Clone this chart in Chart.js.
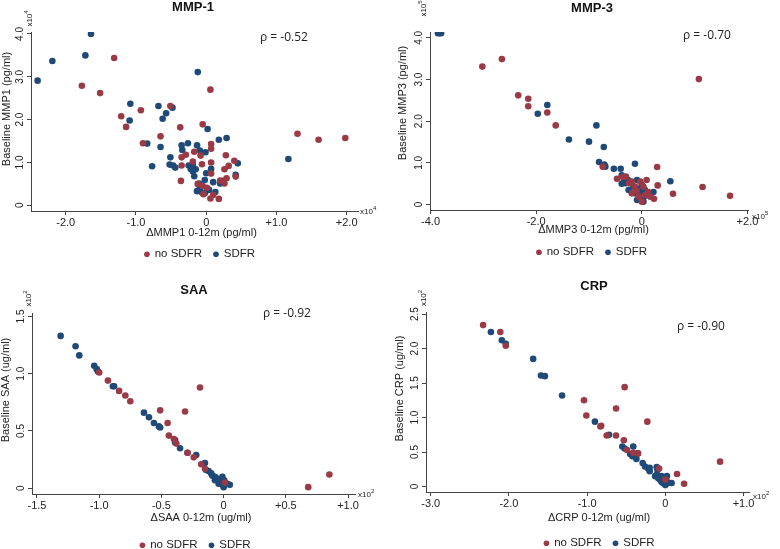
<!DOCTYPE html>
<html>
<head>
<meta charset="utf-8">
<script src="https://cdn.jsdelivr.net/npm/chart.js@4.4.0/dist/chart.umd.min.js"></script>
<style>
  html, body { margin: 0; padding: 0; background: #fff; width: 780px; height: 549px; overflow: hidden; position: relative; }
  canvas { position: absolute; }
</style>
</head>
<body>
<canvas id="c1"></canvas>
<canvas id="c2"></canvas>
<canvas id="c3"></canvas>
<canvas id="c4"></canvas>
<script>
// legend groups
const GROUPS = ["no SDFR", "SDFR"];

// MMP-1 (x10^4), [delta, baseline]
const MMP1_NO = [[-1.77,2.79],[-1.51,2.62],[-1.31,3.44],[-1.21,2.08],[-1.14,1.83],[-0.93,2.22],[-0.90,1.45],[-0.65,1.61],[-0.51,2.32],[-0.37,1.82],[-0.05,1.89],[0.06,2.70],[-0.35,1.12],[-0.29,1.18],[-0.35,0.93],[-0.36,0.57],[-0.17,1.25],[-0.08,1.16],[-0.06,0.96],[-0.19,1.02],[0.07,1.43],[0.07,1.32],[0.07,1.00],[0.07,0.74],[0.28,1.17],[0.26,0.84],[0.32,0.92],[0.40,1.04],[0.42,0.67],[0.29,0.63],[0.24,0.57],[0.20,0.58],[0.26,0.51],[-0.12,0.50],[-0.05,0.45],[0.01,0.41],[-0.04,0.26],[0.10,0.24],[0.06,0.16],[0.18,0.15],[1.30,1.67],[1.60,1.53],[1.98,1.57]];
const MMP1_YES = [[-2.40,2.91],[-2.19,3.37],[-1.72,3.50],[-1.64,4.00],[-1.08,2.37],[-1.09,1.98],[-0.68,2.32],[-0.57,2.15],[-0.62,2.02],[-0.48,2.28],[-0.12,3.11],[-0.84,1.44],[-0.77,0.91],[-0.65,1.36],[-0.51,1.12],[-0.52,0.95],[-0.47,0.93],[-0.44,0.88],[-0.35,1.40],[-0.34,1.29],[-0.26,1.45],[-0.13,1.40],[-0.09,1.28],[-0.01,1.24],[0.02,1.78],[0.18,1.53],[0.29,1.57],[-0.25,0.93],[-0.19,0.95],[-0.22,0.85],[-0.15,0.84],[-0.17,0.68],[-0.19,0.79],[0.00,0.75],[0.07,0.85],[-0.02,0.59],[0.10,0.54],[0.20,0.51],[-0.13,0.33],[-0.06,0.30],[-0.02,0.28],[0.04,0.36],[0.13,0.31],[-0.09,0.40],[0.42,0.71],[0.45,0.98],[1.17,1.08],[-0.10,0.51]];
const MMP1_X_TICKS = [-2, -1, 0, 1, 2];
const MMP1_Y_TICKS = [0, 1, 2, 3, 4];

// MMP-3 (x10^5)
const MMP3_NO = [[-3.02,3.31],[-2.65,3.49],[-2.34,2.62],[-2.15,2.54],[-2.15,2.36],[-1.79,2.21],[-1.63,1.90],[-0.74,0.91],[-0.47,0.62],[-0.30,0.67],[-0.19,0.55],[-0.03,0.55],[0.09,0.59],[0.29,0.90],[0.30,0.46],[0.59,0.26],[1.15,0.42],[1.67,0.21],[1.08,3.01],[-0.19,0.27],[-0.06,0.19],[0.06,0.23],[0.16,0.19],[0.23,0.14],[-0.13,0.43],[0.03,0.43],[0.00,0.07],[-0.24,0.51],[-0.36,0.66],[-0.10,0.33],[0.12,0.30]];
const MMP3_YES = [[-3.86,4.11],[-3.83,4.11],[-3.80,4.11],[-1.79,2.39],[-1.97,2.18],[-1.38,1.56],[-1.00,1.51],[-0.86,1.90],[-0.72,1.38],[-0.81,1.02],[-0.71,0.96],[-0.69,0.91],[-0.53,0.86],[-0.40,0.86],[-0.13,0.98],[-0.38,0.70],[-0.38,0.50],[-0.26,0.59],[-0.09,0.59],[-0.25,0.35],[-0.16,0.43],[-0.13,0.27],[-0.06,0.31],[-0.03,0.19],[0.01,0.13],[0.03,0.27],[0.06,0.35],[0.00,0.47],[0.22,0.30],[0.54,0.56],[-0.31,0.51],[0.03,0.07],[-0.09,0.11],[-0.02,0.39],[-0.34,0.55],[0.05,0.20]];
const MMP3_X_TICKS = [-4, -2, 0, 2];
const MMP3_Y_TICKS = [0, 1, 2, 3, 4];

// SAA (x10^2)
const SAA_NO = [[-1.00,1.01],[-0.93,0.94],[-0.84,0.85],[-0.79,0.81],[-0.75,0.76],[-0.51,0.68],[-0.45,0.57],[-0.44,0.46],[-0.40,0.43],[-0.38,0.39],[-0.31,0.67],[-0.29,0.31],[-0.24,0.27],[-0.19,0.88],[-0.18,0.21],[-0.15,0.17],[0.01,0.05],[0.68,0.01],[0.85,0.12]];
const SAA_YES = [[-1.31,1.33],[-1.19,1.24],[-1.16,1.16],[-1.04,1.07],[-1.02,1.04],[-1.01,1.02],[-0.89,0.89],[-0.88,0.89],[-0.64,0.66],[-0.60,0.62],[-0.56,0.57],[-0.52,0.54],[-0.51,0.53],[-0.39,0.42],[-0.39,0.40],[-0.35,0.35],[-0.29,0.31],[-0.22,0.29],[-0.15,0.22],[-0.14,0.16],[-0.12,0.15],[-0.10,0.13],[-0.07,0.10],[-0.06,0.09],[-0.04,0.07],[-0.03,0.06],[-0.02,0.04],[0.00,0.01],[0.01,0.03],[0.03,0.04],[0.05,0.03],[-0.02,0.08],[-0.01,0.10],[0.005,0.07],[-0.04,0.04],[-0.07,0.07],[-0.09,0.11]];
const SAA_X_TICKS = [-1.5, -1, -0.5, 0, 0.5, 1];
const SAA_Y_TICKS = [0, 0.5, 1, 1.5];

// CRP (x10^2)
const CRP_NO = [[-2.33,2.34],[-2.11,2.24],[-2.04,2.04],[-1.04,1.25],[-1.01,1.03],[-0.83,0.87],[-0.82,0.88],[-0.75,0.74],[-0.63,0.74],[-0.63,1.13],[-0.52,1.44],[-0.53,0.67],[-0.49,0.53],[-0.35,0.48],[-0.23,0.94],[-0.08,0.26],[0.00,0.10],[0.15,0.18],[0.24,0.04],[0.70,0.36],[-0.41,0.49]];
const CRP_YES = [[-2.23,2.24],[-2.09,2.12],[-2.04,2.07],[-1.69,1.85],[-1.59,1.61],[-1.54,1.60],[-1.32,1.32],[-0.90,0.94],[-0.72,0.75],[-0.55,0.58],[-0.52,0.55],[-0.41,0.58],[-0.45,0.47],[-0.42,0.44],[-0.37,0.40],[-0.35,0.48],[-0.29,0.34],[-0.26,0.29],[-0.22,0.26],[-0.20,0.22],[-0.11,0.28],[-0.10,0.24],[-0.13,0.15],[-0.09,0.12],[-0.07,0.10],[-0.05,0.07],[-0.03,0.05],[0.00,0.02],[0.02,0.07],[0.04,0.05],[0.08,0.05],[0.02,0.15],[-0.20,0.27],[-0.05,0.15],[-0.11,0.17]];
const CRP_X_TICKS = [-3, -2, -1, 0, 1];
const CRP_Y_TICKS = [0, 0.5, 1, 1.5, 2, 2.5];

const RED = "#9a3a46";
const BLUE = "#1f4a78";
const AXIS = "#444";
const TEXT = "#222";
const FONT = "'Liberation Sans', Arial, sans-serif";

const LEGEND_FONT = 11.5;
const LEGEND_PAD = 12;
const LEGEND_H = LEGEND_FONT + LEGEND_PAD + 10;

Chart.defaults.font.family = FONT;
Chart.defaults.color = TEXT;

function fmtX(v) { return v === 0 ? "0" : (v > 0 ? "+" : "") + v.toFixed(1); }
function fmtY(v) { return v === 0 ? "0" : v.toFixed(1); }

function drawExp(ctx, x, y, exp, rotated) {
  ctx.save();
  ctx.translate(x, y);
  if (rotated) ctx.rotate(-Math.PI / 2);
  ctx.fillStyle = TEXT;
  ctx.textBaseline = "alphabetic";
  ctx.font = "8px " + FONT;
  const w = ctx.measureText("x10").width;
  ctx.font = "6px " + FONT;
  const w2 = ctx.measureText(exp).width;
  const start = rotated ? -(w + w2) / 2 : 0;
  ctx.font = "8px " + FONT;
  ctx.textAlign = "left";
  ctx.fillText("x10", start, 3);
  ctx.font = "6px " + FONT;
  ctx.fillText(exp, start + w, -1);
  ctx.restore();
}

// titles, rho and exponent labels
function textPlugin(p) {
  return {
    id: "panelText",
    afterDraw(chart) {
      const ctx = chart.ctx;
      ctx.save();
      ctx.fillStyle = "#111";
      ctx.textBaseline = "middle";
      ctx.textAlign = "center";
      ctx.font = "bold 13px " + FONT;
      ctx.fillText(p.title, p.titlePos[0], p.titlePos[1]);

      ctx.font = "11px " + FONT;
      ctx.fillStyle = TEXT;
      ctx.fillText(p.xTitle, p.xTitlePos[0], p.xTitlePos[1]);
      ctx.save();
      ctx.translate(p.yTitlePos[0], p.yTitlePos[1]);
      ctx.rotate(-Math.PI / 2);
      ctx.fillText(p.yTitle, 0, 0);
      ctx.restore();

      ctx.textAlign = "left";
      ctx.font = "12px 'Open Sans', sans-serif";
      ctx.fillText(p.rho, p.rhoPos[0], p.rhoPos[1]);
      ctx.restore();

      drawExp(ctx, p.yExpPos[0], p.yExpPos[1], p.exp, true);
      drawExp(ctx, p.xExpPos[0], p.xExpPos[1], p.exp, false);
    }
  };
}

function makePanel(p, noData, yesData, xTicks, yTicks, xRange, yRange) {
  const canvas = document.getElementById(p.id);
  canvas.width = p.w;
  canvas.height = p.h;
  canvas.style.left = p.x + "px";
  canvas.style.top = p.y + "px";
  const [L, T, R, B] = p.area;
  const xScaleH = p.h - LEGEND_H - B;

  const toPts = (arr) => arr.map(([x, y]) => ({ x, y }));
  const ds = (label, data, color) => ({
    label,
    data: toPts(data),
    backgroundColor: color,
    borderColor: color,
    borderWidth: 0,
    pointRadius: 3.3,
    pointHoverRadius: 3.3,
  });

  const grid = { display: true, drawOnChartArea: false, drawTicks: true, tickLength: 4, color: AXIS, lineWidth: 1 };
  const border = { display: true, color: AXIS, width: 1 };

  new Chart(canvas, {
    type: "scatter",
    data: {
      datasets: [ds(GROUPS[0], noData, RED), ds(GROUPS[1], yesData, BLUE)],
    },
    options: {
      responsive: false,
      animation: false,
      events: [],
      layout: { padding: { left: 0, top: T, right: 0, bottom: 0 } },
      plugins: {
        title: { display: false },
        tooltip: { enabled: false },
        legend: {
          position: "bottom",
          labels: {
            usePointStyle: true,
            boxWidth: 4,
            boxHeight: 4,
            padding: LEGEND_PAD,
            color: TEXT,
            font: { size: LEGEND_FONT, family: FONT },
          },
        },
      },
      scales: {
        x: {
          type: "linear",
          bounds: "data",
          min: xRange[0],
          max: xRange[1],
          grid,
          border,
          afterBuildTicks: (s) => { s.ticks = xTicks.map((v) => ({ value: v })); },
          afterFit: (s) => { s.height = xScaleH; s.paddingLeft = 0; s.paddingRight = 0; },
          ticks: { color: TEXT, font: { size: 11 }, padding: 1, minRotation: 0, maxRotation: 0, autoSkip: false, callback: (v) => fmtX(v) },
        },
        y: {
          type: "linear",
          bounds: "data",
          min: yRange[0],
          max: yRange[1],
          grid,
          border,
          afterBuildTicks: (s) => { s.ticks = yTicks.map((v) => ({ value: v })); },
          afterFit: (s) => { s.width = L; s.paddingTop = 0; s.paddingBottom = 0; },
          ticks: { color: TEXT, font: { size: 10 }, padding: 0, minRotation: 90, maxRotation: 90, crossAlign: "center", autoSkip: false, callback: (v) => fmtY(v) },
        },
        // empty right box, only there to centre the legend like the original
        pad: {
          type: "linear",
          position: "right",
          display: true,
          grid: { display: false },
          border: { display: false },
          ticks: { display: false },
          afterFit: (s) => { s.width = p.w - R; },
        },
      },
    },
    plugins: [textPlugin(p)],
  });
}

makePanel({
  id: "c1", x: 0, y: 0, w: 400, h: 270, area: [31, 32, 358, 211],
  title: "MMP-1", titlePos: [193, 7.5],
  rho: "ρ = -0.52", rhoPos: [260, 38],
  xTitle: "ΔMMP1 0-12m (pg/ml)", xTitlePos: [201.5, 233],
  yTitle: "Baseline MMP1 (pg/ml)", yTitlePos: [7, 109],
  exp: "4", yExpPos: [29, 18.5], xExpPos: [360, 211],
}, MMP1_NO, MMP1_YES, MMP1_X_TICKS, MMP1_Y_TICKS, [-2.494, 2.161], [-0.133, 4.046]);

makePanel({
  id: "c2", x: 390, y: 0, w: 404, h: 268, area: [40, 32, 358, 210],
  title: "MMP-3", titlePos: [202, 8],
  rho: "ρ = -0.70", rhoPos: [293, 36],
  xTitle: "ΔMMP3 0-12m (pg/ml)", xTitlePos: [203.5, 230],
  yTitle: "Baseline MMP3 (pg/ml)", yTitlePos: [13, 103],
  exp: "5", yExpPos: [33, 8.5], xExpPos: [362, 216],
}, MMP3_NO, MMP3_YES, MMP3_X_TICKS, MMP3_Y_TICKS, [-4.01, 2.01], [-0.13, 4.14]);

makePanel({
  id: "c3", x: 0, y: 270, w: 391, h: 291, area: [32, 43, 355, 224],
  title: "SAA", titlePos: [194, 20.5],
  rho: "ρ = -0.92", rhoPos: [263, 44],
  xTitle: "ΔSAA 0-12m (ug/ml)", xTitlePos: [201, 248],
  yTitle: "Baseline SAA (ug/ml)", yTitlePos: [6, 120],
  exp: "2", yExpPos: [28, 28.5], xExpPos: [358, 224],
}, SAA_NO, SAA_YES, SAA_X_TICKS, SAA_Y_TICKS, [-1.54, 1.056], [-0.05, 1.53]);

makePanel({
  id: "c4", x: 390, y: 270, w: 419, h: 289, area: [36, 42, 359, 222],
  title: "CRP", titlePos: [204, 16.5],
  rho: "ρ = -0.90", rhoPos: [287, 57],
  xTitle: "ΔCRP 0-12m (ug/ml)", xTitlePos: [209, 248],
  yTitle: "Baseline CRP (ug/ml)", yTitlePos: [10, 118.5],
  exp: "2", yExpPos: [33, 28], xExpPos: [363, 226],
}, CRP_NO, CRP_YES, CRP_X_TICKS, CRP_Y_TICKS, [-3.06, 1.07], [-0.08, 2.53]);
</script>
</body>
</html>
